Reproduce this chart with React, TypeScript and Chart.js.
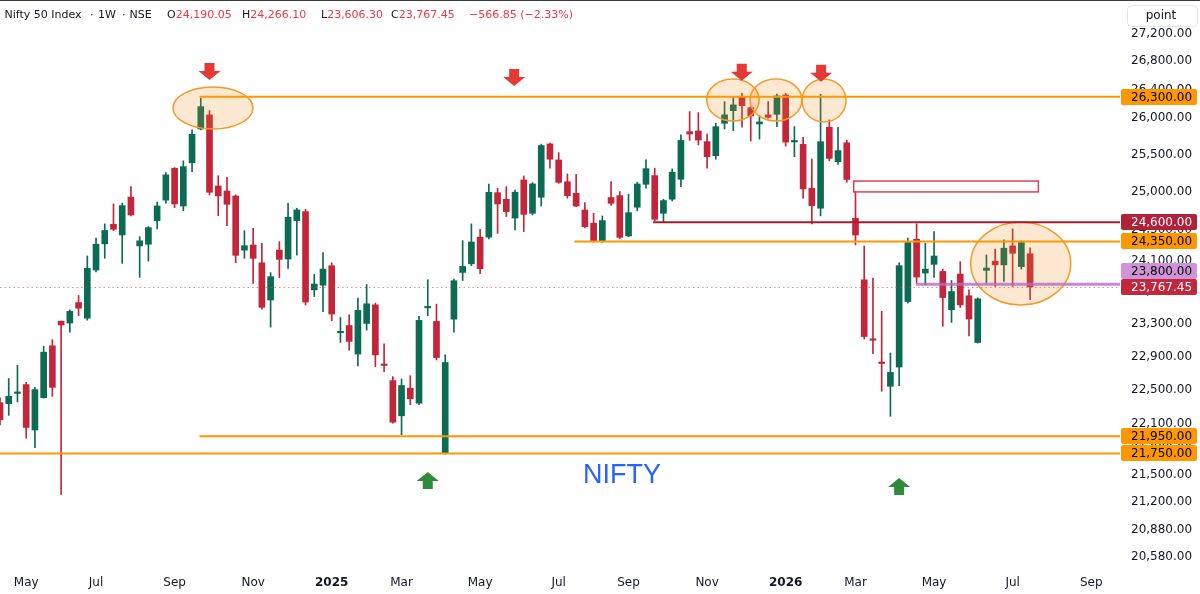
import React, { useEffect, useRef } from 'react';
import { Chart, registerables } from 'chart.js';

Chart.register(...registerables);

// ---------------- data ----------------
const START_WEEK = '2024-04-15'; // first weekly candle (Monday)

const opens = [
  22346, 22334, 22456, 22562, 22023, 22405, 23033, 23337.7, 23314, 23570,
  23374, 23981, 24318, 24573, 24433, 24931, 24292, 24313, 24621, 24891,
  25317, 24813, 25391, 25852, 26046, 25079, 25012, 24946, 24237, 24303,
  24074, 23602, 24238, 24122, 24621, 24739, 23729, 23788, 24036, 23193,
  23283, 22932, 23309, 23541, 22805, 22610, 22190, 22520, 22340, 23503,
  23334, 21758, 23362, 23951, 24061, 24405, 24405, 24990, 24902, 24655,
  25160, 24717, 24929, 25647, 25429, 25136, 24982, 24760, 24587, 24347,
  24925, 24951, 24421, 24797, 25102, 25218, 24717, 24903, 25169, 25815,
  25825, 25678, 25487, 25931, 26105, 26301, 26148, 25921, 26046, 26055,
  26324, 25674, 25641, 25049, 24784, 25876, 25405, 25663, 24652, 23857,
  23113, 22829, 22542, 22774, 23582, 24378, 23943, 24054, 23964, 23479,
  23930, 23655, 23073, 23977, 24094, 24047, 24292, 24025, 24190.05,
];
const highs = [
  22406, 22635, 22795, 22590, 22530, 23028, 23108, 23338.7, 23480, 23659,
  24162, 24393, 24578, 24841, 24850, 25071, 24412, 24542, 24864, 25259,
  25325, 25417, 25840, 26277, 26106, 25217, 25195, 24960, 24490, 24520,
  24324, 23947, 24347, 24850, 24784, 24771, 23928, 24206, 24072, 23383,
  23416, 23627, 23797, 23563, 23057, 22658, 22629, 22669, 23397, 23858,
  23550, 22923, 23866, 24360, 24578, 24507, 25103, 25049, 25071, 25026,
  25214, 25124, 25644, 25657, 25528, 25240, 25236, 24857, 24717, 24682,
  25137, 25005, 24970, 25129, 25431, 25317, 24903, 25308, 25770, 26093,
  26079, 25783, 25931, 26232, 26287, 26348, 26161, 26032, 26231, 26338,
  26348, 25885, 25739, 25441, 26334, 25977, 25876, 25700, 25004, 24291,
  23879, 23459, 22945, 24074, 24392, 24578, 24326, 24477, 23993, 23848,
  24089, 23730, 23629, 24175, 24249, 24369, 24512, 24356, 24266.1,
];
const lows = [
  22084, 22195, 22354, 21928, 21818, 22401, 22421, 21281.45, 23201, 23407,
  23349, 23956, 24132, 24490, 24067, 24684, 23888, 24097, 24511, 24850,
  24791, 24751, 25271, 25839, 24959, 24685, 24554, 24074, 24131, 23810,
  23486, 23263, 23885, 24003, 24173, 23538, 23645, 23457, 23343, 23075,
  22979, 22788, 23226, 22779, 22719, 22103, 21967, 22322, 22322, 23406,
  22860, 21743, 23201, 23848, 24036, 23934, 24383, 24454, 24674, 24499,
  24477, 24695, 24813, 25318, 25114, 24916, 24804, 24525, 24339, 24339,
  24821, 24385, 24412, 24749, 25049, 24620, 24608, 24880, 25071, 25695,
  25632, 25318, 25438, 25852, 25829, 25876, 25686, 25714, 26000, 25885,
  25618, 25473, 24917, 24577, 24683, 25418, 25369, 25128, 24304, 23116,
  22937, 22482, 22184, 22550, 23562, 23815, 23793, 23887, 23273, 23322,
  23507, 23155, 23066, 23815, 23772, 23836, 23772, 23993, 23606.3,
];
const closes = [
  22143, 22422, 22471, 22053, 22502, 22955, 22529, 23290.15, 23459, 23499,
  24003, 24314, 24492, 24508, 24818, 24695, 24357, 24529, 24814, 25228,
  24840, 25339, 25780, 26162, 24995, 24946, 24836, 24170, 24294, 24131,
  23510, 23897, 24118, 24665, 24761, 23576, 23803, 23993, 23426, 23207,
  23087, 23471, 23554, 22922, 22793, 22115, 22551, 22392, 23347, 23517,
  22889, 22829, 23845, 24028, 24342, 23998, 24995, 24840, 24739, 24996,
  24703, 25107, 25625, 25439, 25128, 24950, 24813, 24542, 24347, 24621,
  24849, 24403, 24725, 25106, 25312, 24638, 24885, 25264, 25695, 25783,
  25700, 25474, 25884, 26047, 26186, 26175, 26032, 25949, 26014, 26311,
  25672, 25688, 25040, 24818, 25677, 25451, 25556, 25166, 24433, 23147,
  23101, 22817, 22709, 24037, 24334, 23892, 23993, 24161, 23633, 23708,
  23540, 23364, 23616, 24007, 24047, 24262, 24197, 24334.3, 23767.45,
];

const yTickValues = [
  20580, 20880, 21200, 21500, 21800, 22100, 22500, 22900, 23300,
  23700, 24100, 24500, 25000, 25500, 26000, 26400, 26800, 27200,
];
const xTickDates = [
  '2024-05-06', '2024-07-01', '2024-09-02', '2024-11-04', '2025-01-06',
  '2025-03-03', '2025-05-05', '2025-07-07', '2025-09-01', '2025-11-03',
  '2026-01-05', '2026-03-02', '2026-05-04', '2026-07-06', '2026-09-07',
];
const xTickLabels = [
  'May', 'Jul', 'Sep', 'Nov', '2025', 'Mar', 'May', 'Jul', 'Sep', 'Nov',
  '2026', 'Mar', 'May', 'Jul', 'Sep',
];

const VIEW_WEEKS = 128.3;
const PRICE_MIN = 20441;
const PRICE_MAX = 27690;

// drawings (in week index / price units)
const levelPrices = [26300, 24600, 24350, 23800, 21950, 21750];
const levelFromWeek = [22.85, 74.8, 65.8, 104.9, 22.85, 0];
const levelKinds = ['orange', 'maroon', 'orange', 'purple', 'orange', 'orange'];

const zoneWeeks = [97.8, 118.95];
const zonePrices = [25145, 25000];

const circleWeeks = [24.4, 83.96, 88.89, 94.4, 116.93];
const circleHalfWeeks = [4.58, 3.0, 2.97, 2.52, 5.73];
const circleTopPrices = [26436, 26549, 26549, 26549, 24602];
const circleBottomPrices = [25851, 25962, 25962, 25948, 23539];

const downArrowWeeks = [24.0, 58.9, 84.97, 94.06];
const downArrowPrices = [26535, 26450, 26525, 26510];
const upArrowWeeks = [49.0, 103.0];
const upArrowPrices = [21536, 21467];

const WATERMARK_TEXT = 'NIFTY';
const WATERMARK_WEEK = 71.26;
const WATERMARK_PRICE = 21490;

const SYMBOL = 'Nifty 50 Index';
const INTERVAL = '1W';
const EXCHANGE = 'NSE';
const UNIT_LABEL = 'point';

// ---------------- styles ----------------
const UP = '#0b6b53';
const DOWN = '#c3253a';
const TEXT = '#131722';
const RED_TEXT = '#f23645';
const FONT = 'DejaVu Sans';
const levelStyles: Record<string, { line: string; width: number; bg: string; fg: string }> = {
  orange: { line: '#ff9800', width: 2, bg: '#ff9800', fg: '#000000' },
  maroon: { line: '#a8192e', width: 2, bg: '#b2213a', fg: '#ffffff' },
  purple: { line: 'rgba(186,104,200,0.8)', width: 3, bg: '#ce93d8', fg: '#000000' },
  last: { line: 'rgba(229,57,53,0.6)', width: 1, bg: '#c2283c', fg: '#ffffff' },
};

const DAY = 86400000;
const weekOf = (d: string) =>
  (Date.parse(d + 'T00:00:00Z') - Date.parse(START_WEEK + 'T00:00:00Z')) / (7 * DAY);
const fmt = (v: number) =>
  v.toLocaleString('en-US', { minimumFractionDigits: 2, maximumFractionDigits: 2 });

function roundRect(ctx: CanvasRenderingContext2D, x: number, y: number, w: number, h: number, r: number) {
  ctx.beginPath();
  ctx.moveTo(x + r, y);
  ctx.lineTo(x + w - r, y);
  ctx.quadraticCurveTo(x + w, y, x + w, y + r);
  ctx.lineTo(x + w, y + h - r);
  ctx.quadraticCurveTo(x + w, y + h, x + w - r, y + h);
  ctx.lineTo(x + r, y + h);
  ctx.quadraticCurveTo(x, y + h, x, y + h - r);
  ctx.lineTo(x, y + r);
  ctx.quadraticCurveTo(x, y, x + r, y);
  ctx.closePath();
}

function drawArrow(ctx: CanvasRenderingContext2D, x: number, tipY: number, dir: number, color: string) {
  const headH = 9, shaftH = 8, headW = 11, shaftW = 5;
  ctx.beginPath();
  ctx.moveTo(x, tipY);
  ctx.lineTo(x - headW, tipY - dir * headH);
  ctx.lineTo(x - shaftW, tipY - dir * headH);
  ctx.lineTo(x - shaftW, tipY - dir * (headH + shaftH));
  ctx.lineTo(x + shaftW, tipY - dir * (headH + shaftH));
  ctx.lineTo(x + shaftW, tipY - dir * headH);
  ctx.lineTo(x + headW, tipY - dir * headH);
  ctx.closePath();
  ctx.fillStyle = color;
  ctx.fill();
}

const overlayPlugin = {
  id: 'overlay',
  afterDatasetsDraw(chart: any) {
    const { ctx, chartArea: ca, scales } = chart;
    const xs = scales.x, ys = scales.y;
    const X = (w: number) => xs.getPixelForValue(w);
    const Y = (p: number) => ys.getPixelForValue(p);
    ctx.save();
    ctx.beginPath();
    ctx.rect(ca.left, ca.top, ca.right - ca.left, ca.bottom - ca.top);
    ctx.clip();

    // last price dotted line
    const lastY = Math.round(Y(closes[closes.length - 1])) + 0.5;
    ctx.strokeStyle = levelStyles.last.line;
    ctx.lineWidth = 1;
    ctx.setLineDash([1.5, 3]);
    ctx.beginPath();
    ctx.moveTo(ca.left, lastY);
    ctx.lineTo(ca.right, lastY);
    ctx.stroke();
    ctx.setLineDash([]);

    // ellipses
    circleWeeks.forEach((w, k) => {
      const cx = X(w);
      const rx = X(w + circleHalfWeeks[k]) - cx;
      const top = Y(circleTopPrices[k]);
      const bot = Y(circleBottomPrices[k]);
      ctx.beginPath();
      ctx.ellipse(cx, (top + bot) / 2, rx, (bot - top) / 2, 0, 0, Math.PI * 2);
      ctx.fillStyle = 'rgba(245,140,30,0.2)';
      ctx.fill();
      ctx.strokeStyle = '#f39a2b';
      ctx.lineWidth = 1.5;
      ctx.stroke();
    });

    // zone rectangle
    {
      const x1 = X(zoneWeeks[0]), x2 = X(zoneWeeks[1]);
      const y1 = Y(zonePrices[0]), y2 = Y(zonePrices[1]);
      ctx.strokeStyle = '#e0404f';
      ctx.lineWidth = 1.5;
      ctx.strokeRect(x1, y1, x2 - x1, y2 - y1);
    }

    // level lines
    levelPrices.forEach((p, k) => {
      const st = levelStyles[levelKinds[k]];
      const yy = Y(p);
      ctx.strokeStyle = st.line;
      ctx.lineWidth = st.width;
      ctx.beginPath();
      ctx.moveTo(Math.max(ca.left, X(levelFromWeek[k])), yy);
      ctx.lineTo(ca.right, yy);
      ctx.stroke();
    });

    // arrows
    downArrowWeeks.forEach((w, k) => drawArrow(ctx, X(w), Y(downArrowPrices[k]), 1, '#e53935'));
    upArrowWeeks.forEach((w, k) => drawArrow(ctx, X(w), Y(upArrowPrices[k]), -1, '#2f8a3c'));

    // watermark text
    ctx.fillStyle = '#2962ff';
    ctx.font = `27px "Liberation Sans", Arial, sans-serif`;
    ctx.textAlign = 'center';
    ctx.textBaseline = 'middle';
    ctx.fillText(WATERMARK_TEXT, X(WATERMARK_WEEK), Y(WATERMARK_PRICE));

    ctx.restore();
  },
  afterDraw(chart: any) {
    const { ctx, chartArea: ca, scales } = chart;
    const ys = scales.y;
    ctx.save();

    // price-axis labels
    const items = [
      { price: closes[closes.length - 1], kind: 'last' },
      ...levelPrices.map((p, k) => ({ price: p, kind: levelKinds[k] })),
    ];
    const H = 16;
    const placed: { price: number; kind: string; cy: number }[] = [];
    items.forEach((it) => {
      let cy = ys.getPixelForValue(it.price);
      placed.forEach((q) => {
        if (Math.abs(cy - q.cy) < H) cy = cy < q.cy ? q.cy - H : q.cy + H;
      });
      placed.push({ ...it, cy });
    });
    ctx.font = `12px "${FONT}"`;
    ctx.textAlign = 'left';
    ctx.textBaseline = 'middle';
    placed.slice().reverse().forEach((it) => {
      const st = levelStyles[it.kind];
      roundRect(ctx, ca.right + 1, Math.round(it.cy - H / 2), 76, H, 2);
      ctx.fillStyle = st.bg;
      ctx.fill();
      ctx.fillStyle = st.fg;
      ctx.fillText(fmt(it.price), ca.right + 11, Math.round(it.cy) + 0.5);
    });

    // unit box
    roundRect(ctx, 1127.5, 5.5, 70, 21, 4);
    ctx.fillStyle = '#ffffff';
    ctx.fill();
    ctx.strokeStyle = '#e0e3eb';
    ctx.lineWidth = 1;
    ctx.stroke();
    ctx.fillStyle = TEXT;
    ctx.textAlign = 'center';
    ctx.fillText(UNIT_LABEL, 1161, 16);

    // top border
    ctx.fillStyle = '#3a3a3a';
    ctx.fillRect(0, 0, chart.width, 1);

    // header
    const n = closes.length - 1;
    const chg = closes[n] - closes[n - 1];
    const pct = (chg / closes[n - 1]) * 100;
    const minus = '\u2212';
    const sgn = (v: number) => (v < 0 ? minus : '+') + fmt(Math.abs(v));
    ctx.font = `11px "${FONT}"`;
    ctx.textAlign = 'left';
    const hy = 15;
    const put = (t: string, x: number, c: string) => {
      ctx.fillStyle = c;
      ctx.fillText(t, x, hy);
      return x + ctx.measureText(t).width;
    };
    put(SYMBOL, 4.5, TEXT);
    put('\u00b7', 90, TEXT);
    put(INTERVAL, 98, TEXT);
    put('\u00b7', 122, TEXT);
    put(EXCHANGE, 129.5, TEXT);
    const ohlc: [string, number, number][] = [
      ['O', opens[n], 167], ['H', highs[n], 242], ['L', lows[n], 321], ['C', closes[n], 391],
    ];
    ohlc.forEach(([k, v, x]) => {
      const nx = put(k, x, TEXT);
      put(fmt(v), nx, RED_TEXT);
    });
    put(`${sgn(chg)} (${sgn(pct)}%)`, 469, RED_TEXT);

    ctx.restore();
  },
};

export default function App() {
  const ref = useRef<HTMLCanvasElement | null>(null);

  useEffect(() => {
    document.body.style.margin = '0';
    const canvas = ref.current;
    if (!canvas) return;
    const idx = opens.map((_, i) => i);
    const colors = idx.map((i) => (closes[i] >= opens[i] ? UP : DOWN));
    const xTickWeeks = xTickDates.map(weekOf);

    const chart = new Chart(canvas, {
      type: 'bar',
      data: {
        datasets: [
          {
            label: 'body',
            data: idx.map((i) => ({ x: i, y: [opens[i], closes[i]] })) as any,
            backgroundColor: colors,
            borderWidth: 0,
            barThickness: 6,
            minBarLength: 1.5,
            grouped: false,
          } as any,
          {
            label: 'wick',
            data: idx.map((i) => ({ x: i, y: [lows[i], highs[i]] })) as any,
            backgroundColor: colors,
            borderWidth: 0,
            barThickness: 1,
            grouped: false,
          } as any,
        ],
      },
      plugins: [overlayPlugin],
      options: {
        responsive: false,
        animation: false,
        devicePixelRatio: 1,
        events: [],
        layout: { padding: 0 },
        plugins: { legend: { display: false }, tooltip: { enabled: false }, title: { display: false } },
        scales: {
          x: {
            type: 'linear',
            min: 0,
            max: VIEW_WEEKS,
            offset: false,
            bounds: 'data',
            grid: { display: false, drawTicks: false },
            border: { display: false },
            afterBuildTicks: (s: any) => {
              s.ticks = xTickWeeks.map((v) => ({ value: v }));
            },
            afterFit: (s: any) => {
              s.height = 24;
              s.paddingLeft = 0;
              s.paddingRight = 0;
            },
            ticks: {
              autoSkip: false,
              maxRotation: 0,
              padding: 6,
              color: TEXT,
              font: (c: any) => ({
                family: FONT,
                size: 12,
                weight: /^\d{4}$/.test(xTickLabels[c.index] || '') ? 'bold' : 'normal',
              }),
              callback: (_v: any, i: number) => xTickLabels[i],
            },
          } as any,
          y: {
            type: 'logarithmic',
            position: 'right',
            min: PRICE_MIN,
            max: PRICE_MAX,
            bounds: 'data',
            grid: { display: false, drawTicks: false },
            border: { display: false },
            afterBuildTicks: (s: any) => {
              s.ticks = yTickValues.map((v) => ({ value: v }));
            },
            afterFit: (s: any) => {
              s.width = 80;
              s.paddingTop = 0;
              s.paddingBottom = 0;
            },
            ticks: {
              autoSkip: false,
              padding: 11,
              color: TEXT,
              font: { family: FONT, size: 12 },
              callback: (v: any) => fmt(Number(v)),
            },
          } as any,
        },
      },
    });
    return () => chart.destroy();
  }, []);

  return (
    <div style={{ width: 1200, height: 594, background: '#ffffff' }}>
      <canvas ref={ref} width={1200} height={594} style={{ display: 'block' }} />
    </div>
  );
}
